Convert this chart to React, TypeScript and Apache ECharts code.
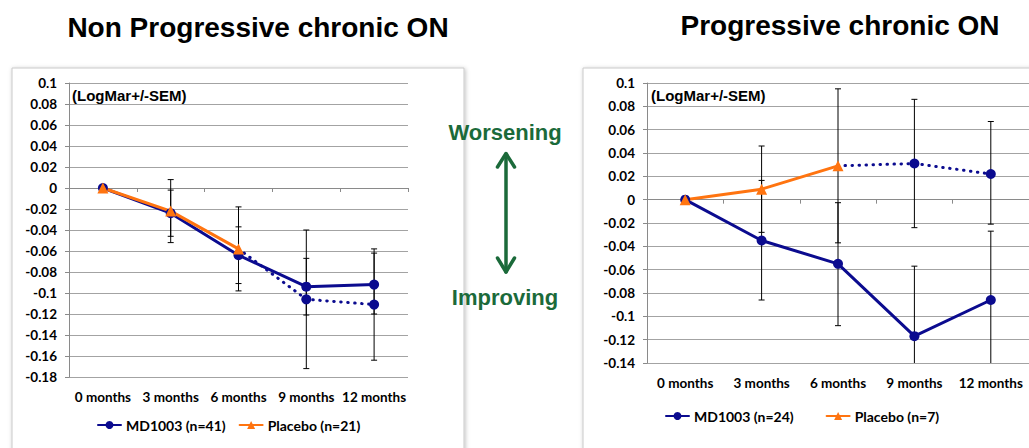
import React, { useEffect, useRef } from "react";
import * as echarts from "echarts";

const categories = ["0 months", "3 months", "6 months", "9 months", "12 months"];

// Left: Non Progressive chronic ON
const leftMdName = "MD1003 (n=41)";
const leftPlaceboName = "Placebo (n=21)";
const leftMd = [0, -0.024, -0.064, -0.094, -0.092];
const leftPlacebo = [0, -0.022, -0.058, null, null];
const leftSwitch = [null, null, -0.058, -0.106, -0.111];
const leftMdLow = [null, -0.046, -0.091, -0.121, -0.12];
const leftMdHigh = [null, -0.002, -0.037, -0.067, -0.062];
const leftPlaceboLow = [null, -0.052, -0.098, null, null];
const leftPlaceboHigh = [null, 0.008, -0.018, null, null];
const leftSwitchLow = [null, null, null, -0.172, -0.164];
const leftSwitchHigh = [null, null, null, -0.04, -0.058];

// Right: Progressive chronic ON
const rightMdName = "MD1003 (n=24)";
const rightPlaceboName = "Placebo (n=7)";
const rightMd = [0, -0.035, -0.055, -0.117, -0.086];
const rightPlacebo = [0, 0.009, 0.029, null, null];
const rightSwitch = [null, null, 0.029, 0.031, 0.022];
const rightMdLow = [null, -0.086, -0.108, -0.177, -0.145];
const rightMdHigh = [null, 0.0165, -0.0026, -0.057, -0.027];
const rightPlaceboLow = [null, -0.028, -0.037, null, null];
const rightPlaceboHigh = [null, 0.046, 0.095, null, null];
const rightSwitchLow = [null, null, null, -0.024, -0.021];
const rightSwitchHigh = [null, null, null, 0.086, 0.067];

const leftYMin = -0.18;
const rightYMin = -0.14;
const yMax = 0.1;
const yStep = 0.02;

const BLUE = "#0b0b8f";
const ORANGE = "#ff7410";
const GREEN = "#1b6a3a";
const LABEL_FONT = "Lato";
const TITLE_FONT = "'Liberation Sans', Arial, sans-serif";

function errRows(low: (number | null)[], high: (number | null)[]) {
  const rows: number[][] = [];
  low.forEach((l, i) => {
    const h = high[i];
    if (l != null && h != null) rows.push([i, l, h]);
  });
  return rows;
}

function renderErr(params: any, api: any) {
  const x = api.value(0);
  const lo = api.coord([x, api.value(1)]);
  const hi = api.coord([x, api.value(2)]);
  const c = 3;
  const st = { stroke: "#000", lineWidth: 1 };
  return {
    type: "group",
    children: [
      { type: "line", shape: { x1: lo[0], y1: lo[1], x2: hi[0], y2: hi[1] }, style: st },
      { type: "line", shape: { x1: lo[0] - c, y1: lo[1], x2: lo[0] + c, y2: lo[1] }, style: st },
      { type: "line", shape: { x1: hi[0] - c, y1: hi[1], x2: hi[0] + c, y2: hi[1] }, style: st },
    ],
  };
}

function fmt(v: number) {
  return String(parseFloat(v.toFixed(2)));
}

function xAxisCfg(gridIndex: number) {
  return {
    type: "category",
    gridIndex,
    data: categories,
    boundaryGap: true,
    axisLine: { show: true, lineStyle: { color: "#8a8a8a", width: 1 } },
    axisTick: { show: true, length: 4, alignWithLabel: false, lineStyle: { color: "#8a8a8a" } },
    axisLabel: {
      interval: 0,
      margin: 13,
      fontFamily: LABEL_FONT,
      fontWeight: "bold",
      fontSize: 13.5,
      color: "#000",
    },
    splitLine: { show: false },
  };
}

function yAxisCfg(gridIndex: number, min: number) {
  return {
    type: "value",
    gridIndex,
    min,
    max: yMax,
    interval: yStep,
    axisLine: { show: true, lineStyle: { color: "#8a8a8a", width: 1 } },
    axisTick: { show: true, length: 4, lineStyle: { color: "#8a8a8a" } },
    axisLabel: {
      margin: 12,
      fontFamily: LABEL_FONT,
      fontWeight: "bold",
      fontSize: 13.5,
      color: "#000",
      formatter: (v: number) => fmt(v),
    },
    splitLine: { show: true, lineStyle: { color: "#a3a3a3", width: 1 } },
  };
}

function lineSeries(name: string, data: any[], idx: number, color: string, symbol: string, size: number, dotted = false) {
  return {
    type: "line",
    name,
    xAxisIndex: idx,
    yAxisIndex: idx,
    data,
    symbol,
    symbolSize: size,
    showAllSymbol: true,
    connectNulls: false,
    z: 5,
    lineStyle: { color, width: 3, type: dotted ? [0.5, 6.5] : "solid", cap: "round" },
    itemStyle: { color },
    emphasis: { disabled: true },
  };
}

function errSeries(low: (number | null)[], high: (number | null)[], idx: number) {
  return {
    type: "custom",
    xAxisIndex: idx,
    yAxisIndex: idx,
    data: errRows(low, high),
    encode: { x: 0, y: [1, 2] },
    renderItem: renderErr,
    clip: true,
    z: 3,
    silent: true,
  };
}

export default function App() {
  const ref = useRef<HTMLDivElement>(null);

  useEffect(() => {
    document.body.style.margin = "0";
    if (!ref.current) return;
    const chart = echarts.init(ref.current, undefined, { renderer: "svg" });

    const legendText = {
      fontFamily: LABEL_FONT,
      fontWeight: "bold",
      fontSize: 14,
      color: "#000",
    };

    const option: any = {
      animation: false,
      backgroundColor: "#fff",
      grid: [
        { left: 69, top: 83, width: 339, height: 294, containLabel: false },
        { left: 647, top: 83, width: 387, height: 280, containLabel: false },
      ],
      xAxis: [xAxisCfg(0), xAxisCfg(1)],
      yAxis: [yAxisCfg(0, leftYMin), yAxisCfg(1, rightYMin)],
      legend: [
        {
          data: [leftMdName, leftPlaceboName],
          left: 92,
          top: 413,
          itemWidth: 23,
          itemHeight: 10,
          itemGap: 13,
          selectedMode: false,
          textStyle: legendText,
        },
        {
          data: [rightMdName, rightPlaceboName],
          left: 660,
          top: 404,
          itemWidth: 23,
          itemHeight: 10,
          itemGap: 32,
          selectedMode: false,
          textStyle: legendText,
        },
      ],
      graphic: [
        {
          type: "rect",
          z: -10,
          shape: { x: 12, y: 68, width: 452, height: 400 },
          style: {
            fill: "#fff",
            stroke: "#c9c9c9",
            lineWidth: 1,
            shadowBlur: 4,
            shadowColor: "rgba(0,0,0,0.25)",
            shadowOffsetX: 1,
            shadowOffsetY: 1,
          },
          silent: true,
        },
        {
          type: "rect",
          z: -10,
          shape: { x: 583, y: 68, width: 460, height: 400 },
          style: {
            fill: "#fff",
            stroke: "#c9c9c9",
            lineWidth: 1,
            shadowBlur: 4,
            shadowColor: "rgba(0,0,0,0.25)",
            shadowOffsetX: 1,
            shadowOffsetY: 1,
          },
          silent: true,
        },
        {
          type: "text",
          x: 258,
          y: 27,
          style: {
            text: "Non Progressive chronic ON",
            fontFamily: TITLE_FONT,
            fontWeight: "bold",
            fontSize: 28,
            fill: "#000",
            align: "center",
            verticalAlign: "middle",
          },
        },
        {
          type: "text",
          x: 840,
          y: 25,
          style: {
            text: "Progressive chronic ON",
            fontFamily: TITLE_FONT,
            fontWeight: "bold",
            fontSize: 28,
            fill: "#000",
            align: "center",
            verticalAlign: "middle",
          },
        },
        {
          type: "text",
          x: 72,
          y: 95,
          z: 10,
          style: {
            text: "(LogMar+/-SEM)",
            fontFamily: TITLE_FONT,
            fontWeight: "bold",
            fontSize: 15,
            fill: "#000",
            align: "left",
            verticalAlign: "middle",
          },
        },
        {
          type: "text",
          x: 651,
          y: 95,
          z: 10,
          style: {
            text: "(LogMar+/-SEM)",
            fontFamily: TITLE_FONT,
            fontWeight: "bold",
            fontSize: 15,
            fill: "#000",
            align: "left",
            verticalAlign: "middle",
          },
        },
        {
          type: "text",
          x: 505,
          y: 132,
          style: {
            text: "Worsening",
            fontFamily: TITLE_FONT,
            fontWeight: "bold",
            fontSize: 22,
            fill: GREEN,
            align: "center",
            verticalAlign: "middle",
          },
        },
        {
          type: "text",
          x: 505,
          y: 297,
          style: {
            text: "Improving",
            fontFamily: TITLE_FONT,
            fontWeight: "bold",
            fontSize: 22,
            fill: GREEN,
            align: "center",
            verticalAlign: "middle",
          },
        },
        {
          type: "line",
          shape: { x1: 506, y1: 154, x2: 506, y2: 272 },
          style: { stroke: GREEN, lineWidth: 3.5, lineCap: "round" },
        },
        {
          type: "polyline",
          shape: { points: [[497.5, 167], [506, 153.5], [514.5, 167]] },
          style: { stroke: GREEN, lineWidth: 3.5, fill: "none", lineCap: "round", lineJoin: "round" },
        },
        {
          type: "polyline",
          shape: { points: [[497.5, 258], [506, 272], [514.5, 258]] },
          style: { stroke: GREEN, lineWidth: 3.5, fill: "none", lineCap: "round", lineJoin: "round" },
        },
      ],
      series: [
        errSeries(leftPlaceboLow, leftPlaceboHigh, 0),
        errSeries(leftMdLow, leftMdHigh, 0),
        errSeries(leftSwitchLow, leftSwitchHigh, 0),
        lineSeries(
          "switchL",
          leftSwitch.map((v, i) => (i === 2 ? { value: v, symbol: "none" } : v)),
          0,
          BLUE,
          "circle",
          10,
          true
        ),
        lineSeries(leftMdName, leftMd, 0, BLUE, "circle", 10),
        lineSeries(leftPlaceboName, leftPlacebo, 0, ORANGE, "triangle", 11),

        errSeries(rightPlaceboLow, rightPlaceboHigh, 1),
        errSeries(rightMdLow, rightMdHigh, 1),
        errSeries(rightSwitchLow, rightSwitchHigh, 1),
        lineSeries(
          "switchR",
          rightSwitch.map((v, i) => (i === 2 ? { value: v, symbol: "none" } : v)),
          1,
          BLUE,
          "circle",
          10,
          true
        ),
        lineSeries(rightMdName, rightMd, 1, BLUE, "circle", 10),
        lineSeries(rightPlaceboName, rightPlacebo, 1, ORANGE, "triangle", 11),
      ],
    };

    chart.setOption(option);
    return () => {
      chart.dispose();
    };
  }, []);

  return <div ref={ref} style={{ width: 1029, height: 448 }} />;
}
